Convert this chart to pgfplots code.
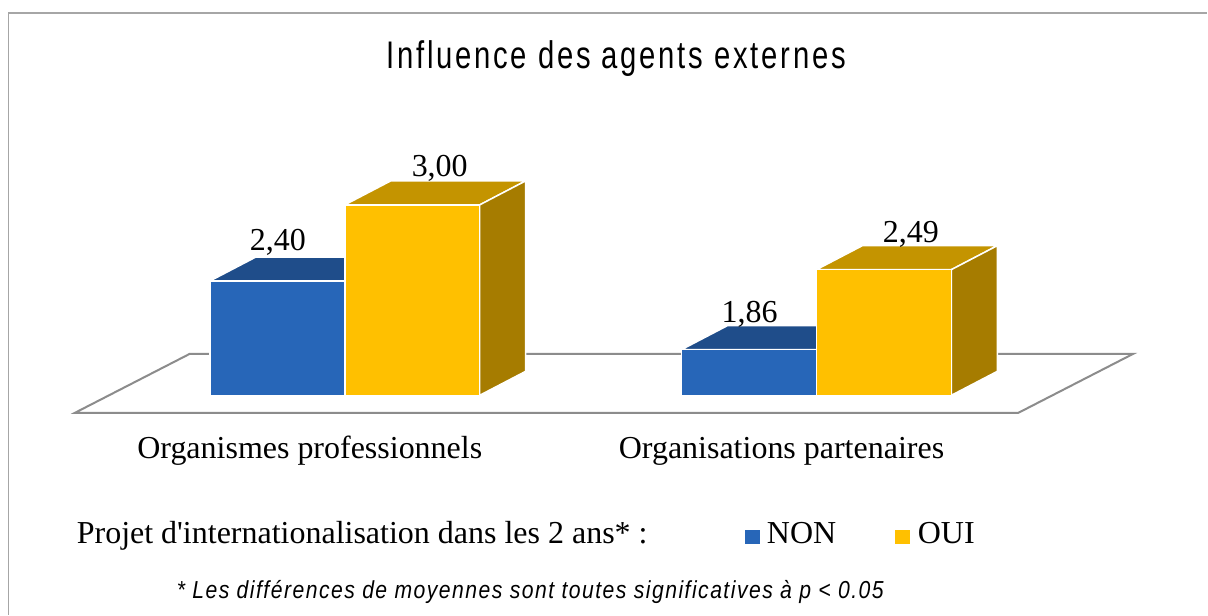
\documentclass[border=0pt]{standalone}
\usepackage{fontspec}
\usepackage{pgfplots}
\pgfplotsset{compat=1.18}
\setmainfont{Liberation Serif}
\newfontfamily\titlefont[FakeStretch=0.76,LetterSpace=7.2]{Liberation Sans}
\newfontfamily\notefont[FakeStretch=0.86,LetterSpace=6]{Liberation Sans}
\definecolor{nonfront}{RGB}{39,102,184}
\definecolor{nontop}{RGB}{31,77,138}
\definecolor{nonside}{RGB}{26,66,120}
\definecolor{ouifront}{RGB}{255,192,0}
\definecolor{ouitop}{RGB}{196,148,0}
\definecolor{ouiside}{RGB}{166,124,0}
\definecolor{floorline}{RGB}{140,140,140}
\definecolor{borderline}{RGB}{166,166,166}
\begin{document}
\begin{tikzpicture}
\begin{axis}[scale only axis, width=604bp, height=307.5bp,
  xmin=0, xmax=1208, ymin=-0.228, ymax=4.614,
  hide axis, clip=false]
% background and frame
\path[fill=white] (axis cs:0,-0.228) rectangle (axis cs:1208,4.614);
\draw[borderline, line width=0.75bp] (axis cs:8.5,-0.228) -- (axis cs:8.5,4.512) -- (axis cs:1208,4.512);
% title
\node[anchor=base] at (axis cs:616.5,4.076) {\titlefont\fontsize{19.25bp}{23bp}\selectfont Influence des agents externes};
% floor
\addplot[fill=white, draw=floorline, line width=1bp] coordinates {(75,1.362) (1019,1.362) (1134,1.827) (190,1.827)} -- cycle;
% ---- Organismes professionnels: NON = 2.40, OUI = 3.00
\addplot[fill=nonside, draw=white, line width=0.75bp] coordinates {(345,1.5) (391,1.689) (391,2.589) (345,2.40)} -- cycle;
\addplot[fill=nontop, draw=white, line width=0.75bp] coordinates {(210,2.40) (345,2.40) (391,2.589) (256,2.589)} -- cycle;
\addplot[fill=nonfront, draw=white, line width=0.75bp] coordinates {(210,1.5) (345,1.5) (345,2.40) (210,2.40)} -- cycle;
\addplot[fill=ouitop, draw=white, line width=0.75bp] coordinates {(345,3.00) (480,3.00) (526,3.189) (391,3.189)} -- cycle;
\addplot[fill=ouiside, draw=white, line width=0.75bp] coordinates {(480,1.5) (526,1.689) (526,3.189) (480,3.00)} -- cycle;
\addplot[fill=ouifront, draw=white, line width=0.75bp] coordinates {(345,1.5) (480,1.5) (480,3.00) (345,3.00)} -- cycle;
% ---- Organisations partenaires: NON = 1.86, OUI = 2.49
\addplot[fill=nonside, draw=white, line width=0.75bp] coordinates {(817,1.5) (863,1.689) (863,2.049) (817,1.86)} -- cycle;
\addplot[fill=nontop, draw=white, line width=0.75bp] coordinates {(682,1.86) (817,1.86) (863,2.049) (728,2.049)} -- cycle;
\addplot[fill=nonfront, draw=white, line width=0.75bp] coordinates {(682,1.5) (817,1.5) (817,1.86) (682,1.86)} -- cycle;
\addplot[fill=ouitop, draw=white, line width=0.75bp] coordinates {(817,2.49) (952,2.49) (998,2.679) (863,2.679)} -- cycle;
\addplot[fill=ouiside, draw=white, line width=0.75bp] coordinates {(952,1.5) (998,1.689) (998,2.679) (952,2.49)} -- cycle;
\addplot[fill=ouifront, draw=white, line width=0.75bp] coordinates {(817,1.5) (952,1.5) (952,2.49) (817,2.49)} -- cycle;
% value labels
\begin{scope}[every node/.style={anchor=base, inner sep=0pt, font=\fontsize{16bp}{19bp}\selectfont}]
\node at (axis cs:278,2.644) {2,40};
\node at (axis cs:440,3.220) {3,00};
\node at (axis cs:750,2.071) {1,86};
\node at (axis cs:911.5,2.701) {2,49};
% category labels
\node at (axis cs:310,1.0) {Organismes professionnels};
\node at (axis cs:782,1.0) {Organisations partenaires};
\end{scope}
% legend
\begin{scope}[every node/.style={anchor=base west, inner sep=0pt, font=\fontsize{16bp}{19bp}\selectfont}]
\node at (axis cs:76.5,0.331) {Projet d\textquotesingle internationalisation dans les 2 ans* :};
\fill[nonfront] (axis cs:745,0.331) rectangle (axis cs:760,0.441);
\node at (axis cs:767,0.331) {NON};
\fill[ouifront] (axis cs:896,0.331) rectangle (axis cs:911,0.441);
\node at (axis cs:918,0.331) {OUI};
\end{scope}
% footnote
\node[anchor=base west, inner sep=0pt] at (axis cs:176.5,-0.097) {\notefont\itshape\fontsize{12.3bp}{15bp}\selectfont * Les différences de moyennes sont toutes significatives à p < 0.05};
\end{axis}
\end{tikzpicture}
\end{document}
